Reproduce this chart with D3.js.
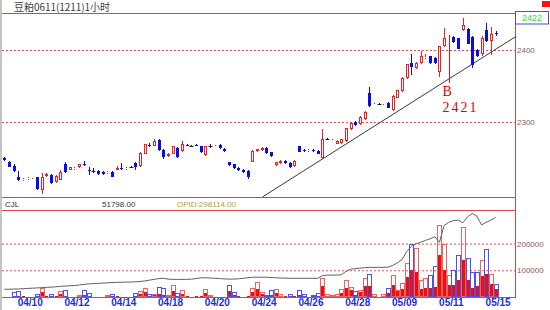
<!DOCTYPE html>
<html>
<head>
<meta charset="utf-8">
<style>
  body { margin: 0; background: #fff; }
  svg { display: block; font-family: "Liberation Sans", Arial, sans-serif; }
  .grid line { stroke: #e05050; stroke-dasharray: 2,2; }
  .grid path { display: none; }
  .grid text { fill: #8a5a5a; font-size: 8px; }
  .dates text { fill: #1c2ee0; font-size: 10px; font-weight: bold; }
  .dates path, .dates line { display: none; }
</style>
</head>
<body>
<div id="chart"></div>
<script src="https://d3js.org/d3.v7.min.js"></script>
<script>
// hourly bars, oldest first
var opens  = [2250,2245,2239,2224,2219,2221,2222,2223,2205,2225,2227,2216,2220,2242,2234,2235,2237,2242,2234,2232,
              2232,2231,2229,2231,2234,2236,2235,2237,2243,2239,2256,2268,2267,2275,2261,2253,2256,2264,2260,2268,
              2267,2268,2266,2254,2267,2266,2268,2263,2244,2241,2236,2234,2232,2245,2260,2261,2264,2258,2240,2243,
              2246,2243,2239,2266,2261,2260,2261,2260,2250,2276,2274,2270,2271,2273,2290,2300,2297,2304,2340,2324,
              2325,2325,2327,2316,2334,2343,2361,2382,2375,2382,2389,2391,2389,2370,2405,2418,2418,2416,2428,2429,
              2418,2400,2394,2428,2412,2423];
var highs  = [2252,2246,2241,2232,2222,2223,2224,2224,2229,2229,2228,2226,2233,2244,2238,2237,2242,2246,2238,2236,
              2233,2232,2232,2232,2239,2243,2238,2239,2244,2258,2270,2271,2277,2276,2262,2257,2267,2265,2274,2269,
              2268,2269,2267,2267,2270,2268,2269,2264,2245,2242,2237,2235,2233,2261,2263,2265,2265,2259,2245,2247,
              2247,2244,2247,2267,2262,2262,2262,2261,2290,2278,2276,2275,2277,2292,2300,2301,2308,2315,2348,2326,
              2327,2327,2328,2337,2345,2362,2381,2394,2383,2398,2394,2392,2390,2406,2430,2421,2419,2417,2444,2430,
              2419,2401,2420,2437,2432,2426];
var lows   = [2246,2237,2231,2218,2218,2220,2221,2206,2200,2224,2214,2215,2219,2229,2233,2234,2236,2239,2227,2229,
              2227,2227,2228,2223,2233,2234,2234,2236,2234,2238,2255,2265,2266,2260,2248,2252,2255,2250,2259,2266,
              2266,2266,2257,2253,2264,2265,2263,2259,2239,2235,2232,2229,2221,2244,2259,2260,2256,2252,2239,2242,
              2242,2236,2238,2258,2259,2259,2259,2255,2249,2275,2273,2269,2270,2272,2289,2295,2296,2303,2321,2323,
              2324,2324,2319,2315,2333,2342,2360,2365,2374,2381,2388,2381,2381,2363,2404,2408,2410,2401,2427,2408,
              2375,2390,2392,2411,2393,2419];
var closes = [2247,2238,2232,2219,2221,2222,2223,2207,2223,2228,2215,2225,2230,2230,2237,2236,2241,2241,2233,2232,
              2228,2228,2231,2224,2236,2235,2236,2237,2238,2257,2269,2267,2273,2261,2252,2256,2266,2251,2269,2267,
              2267,2267,2258,2266,2267,2267,2264,2260,2240,2236,2233,2230,2223,2260,2262,2264,2257,2253,2244,2246,
              2243,2237,2246,2259,2260,2261,2260,2256,2276,2276,2275,2274,2276,2291,2299,2296,2307,2314,2322,2325,
              2325,2326,2320,2336,2344,2361,2380,2377,2382,2391,2390,2382,2382,2405,2417,2419,2411,2402,2435,2409,
              2379,2391,2417,2412,2422,2422];
// volume (thousands), the filled red part of each volume bar (thousands), open interest (thousands)
var volumes = [3,5,19,22,4,2,2,11,34,5,11,4,22,26,3,2,8,26,15,3,
               2,2,8,11,5,3,2,2,15,21,35,10,12,37,33,6,44,14,25,5,
               2,5,5,31,6,3,2,3,46,20,5,3,4,35,56,20,8,26,30,11,
               4,11,5,26,11,3,7,15,72,11,7,11,29,62,37,21,27,72,87,10,
               3,10,34,81,27,54,127,200,185,62,72,84,115,268,200,81,100,158,262,146,
               94,94,137,181,87,50];
var volFill = [1,1,3,3,2,1,1,3,19,2,3,2,11,5,1,1,4,6,4,1,
               1,1,4,3,3,1,1,1,4,12,20,3,6,10,8,3,22,4,12,2,
               1,2,2,15,3,1,1,1,22,8,2,1,2,17,30,10,4,8,16,5,
               2,3,2,8,3,1,2,4,40,5,3,5,15,35,25,8,19,40,40,5,
               1,5,15,44,21,29,75,100,94,30,34,35,38,156,102,44,46,65,140,63,
               35,40,79,87,48,30];
var openInt = [29,29,30,30,31,32,33,34,35,36,37,38,40,41,42,43,45,47,49,50,
               51,52,53,54,55,55,56,56,57,58,60,63,66,69,70,67,66,66,66,66,
               67,69,72,72,71,70,69,68,67,67,68,70,72,74,74,74,74,73,72,71,
               71,70,70,70,70,70,70,70,80,82,82,82,83,96,104,106,108,110,111,111,
               111,111,112,118,128,140,170,190,199,205,212,218,226,205,268,280,286,288,278,300,
               313,303,270,280,288,298];

var dateLabels = ["04/10","04/12","04/14","04/18","04/20","04/24","04/26","04/28","05/09","05/11","05/15"];
var dateIdx    = [5,15,25,35,45,55,65,75,85,95,105];
var priceTicks = [2400, 2300];
var volTicks   = [200000, 100000];
var trendLine  = [{i: 55.2, p: 2196}, {i: 109.4, p: 2419}];
var note       = {i: 95, p: 2421, label: "B", value: "2421"};

var W = 550, H = 310;
var left = 2, right = 515;
var priceTop = 13, priceBot = 197, stripBot = 210, volBot = 297;
var lineRed = "#d04848";

var svg = d3.select("#chart").append("svg")
    .attr("width", W)
    .attr("height", H);

var x  = d3.scaleLinear().domain([0, 105]).range([4.3, 495.6]);
var y  = d3.scaleLinear().domain([2200, 2450]).range([194, 14]);
var yv = d3.scaleLinear().domain([0, 300000]).range([297, 216.9]);

// frame
svg.append("rect").attr("x", 0).attr("y", 0).attr("width", 2).attr("height", H).attr("fill", "#c4c4c4");
[priceTop, priceBot, stripBot, volBot].forEach(function(v) {
    svg.append("line").attr("x1", left).attr("x2", right)
        .attr("y1", v + 0.5).attr("y2", v + 0.5)
        .attr("stroke", lineRed);
});
svg.append("line").attr("x1", right + 0.5).attr("x2", right + 0.5)
    .attr("y1", priceTop).attr("y2", volBot + 1)
    .attr("stroke", lineRed);

svg.append("text").attr("x", 14).attr("y", 10.5)
    .attr("font-size", "10px").attr("fill", "#404040")
    .attr("font-family", "'Noto Sans CJK SC', sans-serif")
    .attr("textLength", 96)
    .text("豆粕0611(1211)1小时");
svg.append("rect").attr("x", 542).attr("y", 1).attr("width", 8).attr("height", 6).attr("fill", "#ff1010");

// gridlines + right labels
svg.append("g").attr("class", "grid")
    .attr("transform", "translate(" + left + ",0)")
    .call(d3.axisRight(y).tickValues(priceTicks).tickSize(right - left).tickPadding(2).tickFormat(d3.format("d")));
svg.append("g").attr("class", "grid")
    .attr("transform", "translate(" + left + ",0)")
    .call(d3.axisRight(yv).tickValues(volTicks).tickSize(right - left).tickPadding(2).tickFormat(d3.format("d")));

svg.append("rect").attr("x", 515.5).attr("y", 11.5).attr("width", 33).attr("height", 12.5)
    .attr("fill", "#fff").attr("stroke", "#4a4af0");
svg.append("text").attr("x", 532).attr("y", 21).attr("text-anchor", "middle")
    .attr("font-size", "9px").attr("fill", "#3cd23c")
    .text(closes[closes.length - 1]);

// strip texts
svg.append("text").attr("x", 5).attr("y", 207).attr("font-size", "8px").attr("fill", "#333").text("CJL");
svg.append("text").attr("x", 102).attr("y", 207).attr("font-size", "8px").attr("fill", "#333").text("51798.00");
svg.append("text").attr("x", 177).attr("y", 207).attr("font-size", "8px").attr("fill", "#a8a048").text("OPID:298114.00");

// trend line
svg.append("path")
    .datum(trendLine)
    .attr("d", d3.line().x(function(d) { return x(d.i); }).y(function(d) { return y(d.p); }))
    .attr("stroke", "#3a3a3a").attr("fill", "none").attr("stroke-width", 1);

// candles
var candles = d3.range(opens.length).map(function(i) {
    return {i: i, o: opens[i], h: highs[i], l: lows[i], c: closes[i], v: volumes[i] * 1000, f: volFill[i] * 1000};
});
function col(d) { return d.c > d.o ? "#f02020" : (d.c < d.o ? "#0a0af0" : "#202020"); }

var cg = svg.append("g").attr("class", "candles");
candles.forEach(function(d) {
    var cx = Math.round(x(d.i));
    var top = Math.round(y(Math.max(d.o, d.c))), bot = Math.round(y(Math.min(d.o, d.c)));
    var yh = Math.round(y(d.h)), yl = Math.round(y(d.l));
    var c = col(d);
    if (bot - top < 1) bot = top + 1;
    cg.append("line").attr("x1", cx + 0.5).attr("x2", cx + 0.5).attr("y1", yh).attr("y2", top).attr("stroke", c);
    cg.append("line").attr("x1", cx + 0.5).attr("x2", cx + 0.5).attr("y1", bot).attr("y2", yl).attr("stroke", c);
    if (d.c > d.o) {
        cg.append("rect").attr("x", cx - 0.5).attr("y", top + 0.5).attr("width", 2).attr("height", Math.max(bot - top - 1, 0))
            .attr("fill", "#fff").attr("stroke", c);
    } else if (d.c < d.o) {
        cg.append("rect").attr("x", cx - 1).attr("y", top).attr("width", 3).attr("height", bot - top).attr("fill", c);
    } else {
        cg.append("line").attr("x1", cx - 1.5).attr("x2", cx + 2.5).attr("y1", top + 0.5).attr("y2", top + 0.5).attr("stroke", c);
    }
});

// note B
var nx = Math.round(x(note.i)) + 0.5;
svg.append("line").attr("x1", nx).attr("x2", nx).attr("y1", y(note.p)).attr("y2", y(note.p) + 48)
    .attr("stroke", "#e01010");
svg.append("text").attr("x", nx - 7).attr("y", y(note.p) + 61)
    .attr("font-family", "'Liberation Serif', serif").attr("font-size", "14px").attr("fill", "#e00000")
    .text(note.label);
svg.append("text").attr("x", nx - 7).attr("y", y(note.p) + 77)
    .attr("font-family", "'Liberation Serif', serif").attr("font-size", "14px").attr("fill", "#e00000")
    .attr("letter-spacing", "2px")
    .text(note.value);

// volume bars
var vg = svg.append("g").attr("class", "vol");
candles.forEach(function(d) {
    var cx = Math.round(x(d.i));
    var yt = Math.round(yv(d.v)), yf = Math.round(yv(d.f)), y0 = Math.round(yv(0));
    vg.append("rect").attr("x", cx - 1).attr("y", yf).attr("width", 3).attr("height", y0 - yf).attr("fill", "#e81010");
    vg.append("rect").attr("x", cx - 1.5).attr("y", yt + 0.5).attr("width", 4).attr("height", Math.max(y0 - yt - 1, 0))
        .attr("fill", "none").attr("stroke", d.c >= d.o ? "#f06060" : "#5050f0");
});

// open interest line
svg.append("path")
    .datum(openInt)
    .attr("d", d3.line().x(function(d, i) { return x(i); }).y(function(d) { return yv(d * 1000); }))
    .attr("stroke", "#606060").attr("fill", "none");

// dates
svg.append("g").attr("class", "dates")
    .attr("transform", "translate(2," + volBot + ")")
    .call(d3.axisBottom(x).tickValues(dateIdx).tickSize(0).tickPadding(2)
        .tickFormat(function(d, k) { return dateLabels[k]; }));
</script>
</body>
</html>
